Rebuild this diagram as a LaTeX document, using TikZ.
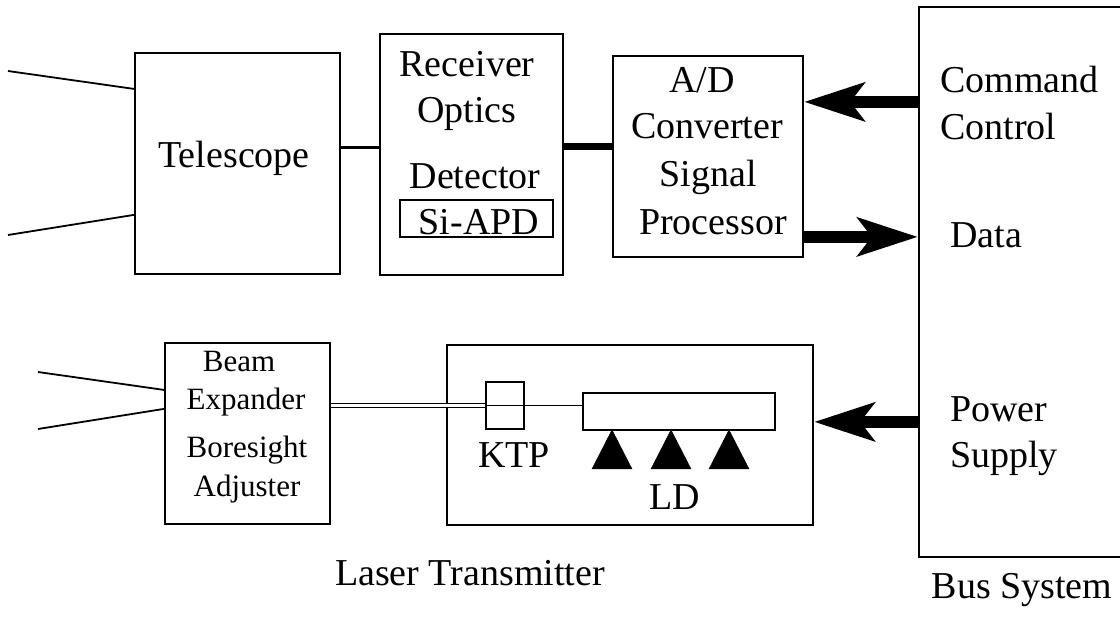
\documentclass[tikz,border=0pt]{standalone}
\usepackage{fontspec}
\setmainfont{Liberation Serif}
\usetikzlibrary{arrows.meta}
\begin{document}
\begin{tikzpicture}[x=1pt,y=-1pt,
  box/.style={draw, line width=2.2pt, inner sep=0pt, fill=none},
  lbl/.style={anchor=base, inner sep=0pt, font=\fontsize{38pt}{40pt}\selectfont},
  lblw/.style={anchor=base west, inner sep=0pt, font=\fontsize{38pt}{40pt}\selectfont},
  sml/.style={anchor=base, inner sep=0pt, font=\fontsize{31pt}{33pt}\selectfont},
  fat/.style={line width=12pt, -{Stealth[length=60pt,width=38pt,inset=14pt]}},
  beamline/.style={line width=1.8pt},
  diode/.style={fill=black, draw=black, line width=0.5pt}]
\useasboundingbox (0,0) rectangle (1120,617);
\fill[white] (0,0) rectangle (1120,617);

% boxes
\node[box, minimum width=205pt, minimum height=221pt] (tel) at (237.5,163.5) {};
\node[box, minimum width=183pt, minimum height=241pt] (rx) at (471.5,154.5) {};
\node[box, minimum width=153pt, minimum height=37pt] (apd) at (476.5,218.5) {};
\node[box, minimum width=190pt, minimum height=201pt] (ad) at (708,156.5) {};
\node[box, minimum width=206pt, minimum height=550pt] (bus) at (1022,282) {};
\node[box, minimum width=165pt, minimum height=181pt] (beam) at (247.5,433.5) {};
\node[box, minimum width=366pt, minimum height=180pt] (laser) at (630,435) {};
\node[box, line width=1.6pt, minimum width=38pt, minimum height=47pt] (ktp) at (505,405.5) {};
\node[box, line width=1.8pt, minimum width=192pt, minimum height=37pt] (rod) at (679,411.5) {};

% free ends
\coordinate (t1) at (8,71);
\coordinate (t2) at (8,235);
\coordinate (b1) at (38,372);
\coordinate (b2) at (38,429);

% telescope and beam expander rays
\draw[beamline] (t1) -- ([yshift=-37pt]tel.north west);
\draw[beamline] (t2) -- ([yshift=-163pt]tel.north west);
\draw[beamline] (b1) -- ([yshift=-48pt]beam.north west);
\draw[beamline] (b2) -- ([yshift=-67pt]beam.north west);

% receiver chain
\draw[line width=3pt] ([yshift=-96pt]tel.north east) -- ([yshift=-115pt]rx.north west);
\draw[line width=7pt] ([yshift=-114pt]rx.north east) -- ([yshift=-92pt]ad.north west);

% bus arrows
\draw[fat] ([yshift=-96pt]bus.north west) -- ([yshift=-47pt]ad.north east);
\draw[fat] ([yshift=-182pt]ad.north east) -- ([yshift=-231pt]bus.north west);
\draw[fat] ([yshift=-416pt]bus.north west) -- ([yshift=-78pt]laser.north east);

% laser beam path
\draw[line width=1.2pt, double=white, double distance=2.6pt] (beam.east |- ktp.west) -- (ktp.west);
\draw[line width=1.5pt] (ktp.west) -- (ktp.west -| rod.west);

% laser diodes
\draw[diode] (592,469) -- (612,430) -- (632,469) -- cycle;
\draw[diode] (651,469) -- (671,430) -- (691,469) -- cycle;
\draw[diode] (709,469) -- (729,430) -- (749,469) -- cycle;

% labels
\node[lbl] (ltel) at (234,168) {Telescope};
\node[lbl] (lrx1) at (467,77) {Receiver};
\node[lbl] (lrx2) at (467,123) {Optics};
\node[lbl] (lrx3) at (475,189) {Detector};
\node[lbl] (lapd) at (479,235) {Si-APD};
\node[lbl] (lad1) at (702,93) {A/D};
\node[lbl] (lad2) at (707,139) {Converter};
\node[lbl] (lad3) at (708,187) {Signal};
\node[lbl] (lad4) at (713,235) {Processor};
\node[lblw] (lcmd1) at (940,93) {Command};
\node[lblw] (lcmd2) at (940,140) {Control};
\node[lblw] (ldata) at (950,248) {Data};
\node[lblw] (lpow1) at (950,422) {Power};
\node[lblw] (lpow2) at (950,468) {Supply};
\node[lbl] (lktp) at (514,468) {KTP};
\node[lbl] (lld) at (675,510) {LD};
\node[sml] (lb1) at (239,372) {Beam};
\node[sml] (lb2) at (246,410) {Expander};
\node[sml] (lb3) at (247,458) {Boresight};
\node[sml] (lb4) at (247,497) {Adjuster};
\node[lbl] (llt) at (470,585) {Laser Transmitter};
\node[lbl] (lbus) at (1022,598) {Bus System};
\end{tikzpicture}
\end{document}
